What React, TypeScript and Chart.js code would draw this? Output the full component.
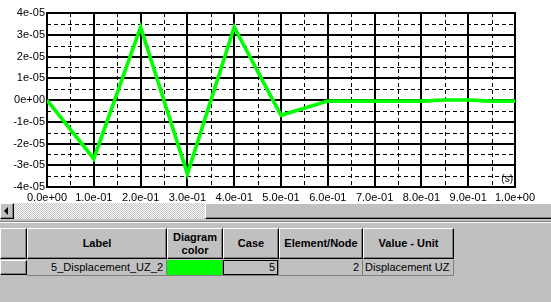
import React, { useEffect, useRef } from 'react';
import { Chart, registerables } from 'chart.js';

Chart.register(...registerables);

// ---- chart data ----
const timeSteps = [0, 0.1, 0.2, 0.3, 0.4, 0.5, 0.6, 0.65, 0.7, 0.75, 0.8, 0.85, 0.9, 0.95, 1.0];
const displacementUZ = [0, -2.7e-5, 3.35e-5, -3.4e-5, 3.35e-5, -0.7e-5, -5e-7, -5e-7, -5e-7, -5e-7, -5e-7, 0, 0, -5e-7, -5e-7];
const xAxisUnit = '(s)';

// ---- table data ----
const tableHeaders = ['Label', 'Diagram\ncolor', 'Case', 'Element/Node', 'Value - Unit'];
const rowLabels = ['5_Displacement_UZ_2'];
const rowColors = ['#00ff00'];
const rowCases = ['5'];
const rowNodes = ['2'];
const rowUnits = ['Displacement UZ'];

const FONT = '"Liberation Sans", Arial, sans-serif';

function fmtX(v: number): string {
  const s = v.toExponential(1);
  const [m, e] = s.split('e');
  const sign = e[0] === '-' ? '-' : '+';
  const d = e.replace(/[+-]/, '').padStart(2, '0');
  return `${m}e${sign}${d}`;
}

function fmtY(n: number): string {
  if (n === 0) return '0e+00';
  return `${n}e-05`;
}

const gridPlugin = {
  id: 'winGrid',
  beforeDatasetsDraw(chart: any) {
    const { ctx, chartArea: a, scales } = chart;
    const x = scales.x;
    const y = scales.y;
    ctx.save();
    ctx.strokeStyle = '#000';
    // minor dashed
    ctx.lineWidth = 1;
    ctx.setLineDash([4, 3]);
    ctx.beginPath();
    x.ticks.forEach((t: any) => {
      const k = Math.round(t.value * 20);
      if (k % 2 !== 0) {
        const px = Math.round(x.getPixelForValue(t.value)) + 0.5;
        ctx.moveTo(px, a.top);
        ctx.lineTo(px, a.bottom);
      }
    });
    y.ticks.forEach((t: any) => {
      const k = Math.round(t.value / 5e-6);
      if (k % 2 !== 0) {
        const py = Math.round(y.getPixelForValue(t.value)) + 0.5;
        ctx.moveTo(a.left, py);
        ctx.lineTo(a.right, py);
      }
    });
    ctx.stroke();
    // major solid
    ctx.setLineDash([]);
    ctx.lineWidth = 2;
    ctx.beginPath();
    x.ticks.forEach((t: any) => {
      const k = Math.round(t.value * 20);
      if (k % 2 === 0) {
        const px = Math.round(x.getPixelForValue(t.value));
        ctx.moveTo(px, a.top - 1);
        ctx.lineTo(px, a.bottom + 1);
      }
    });
    y.ticks.forEach((t: any) => {
      const k = Math.round(t.value / 5e-6);
      if (k % 2 === 0) {
        const py = Math.round(y.getPixelForValue(t.value));
        ctx.moveTo(a.left - 1, py);
        ctx.lineTo(a.right + 1, py);
      }
    });
    ctx.stroke();
    ctx.restore();
  },
  afterDraw(chart: any) {
    const { ctx, chartArea: a } = chart;
    ctx.save();
    ctx.fillStyle = '#000';
    ctx.font = `10px ${FONT}`;
    ctx.textAlign = 'right';
    ctx.textBaseline = 'alphabetic';
    ctx.fillText(xAxisUnit, a.right - 2, a.bottom - 5);
    ctx.restore();
  },
};

const raised: React.CSSProperties = {
  position: 'absolute',
  boxSizing: 'border-box',
  background: '#c0c0c0',
  borderTop: '1px solid #fff',
  borderLeft: '1px solid #fff',
  borderRight: '1px solid #000',
  borderBottom: '1px solid #000',
  boxShadow: 'inset -1px -1px #808080',
};

const columns = [
  { left: 27, width: 140 },
  { left: 167, width: 56 },
  { left: 223, width: 56 },
  { left: 279, width: 84 },
  { left: 363, width: 91 },
];

export default function App() {
  const canvasRef = useRef<HTMLCanvasElement | null>(null);

  useEffect(() => {
    const canvas = canvasRef.current;
    if (!canvas) return;
    const chart = new Chart(canvas, {
      type: 'line',
      data: {
        datasets: [
          {
            data: timeSteps.map((t, i) => ({ x: t, y: displacementUZ[i] })),
            borderColor: '#00ff00',
            borderWidth: 3.6,
            pointRadius: 0,
            tension: 0,
            borderJoinStyle: 'miter',
          },
        ],
      },
      options: {
        animation: false,
        responsive: false,
        devicePixelRatio: 1,
        layout: { padding: { left: 0, top: 13, right: 36, bottom: 0 } },
        plugins: { legend: { display: false }, tooltip: { enabled: false } },
        scales: {
          x: {
            type: 'linear',
            min: 0,
            max: 1,
            grid: { display: false, drawTicks: false },
            border: { display: false },
            afterFit: (s: any) => { s.height = 16; },
            ticks: {
              stepSize: 0.05,
              autoSkip: false,
              maxRotation: 0,
              minRotation: 0,
              padding: 4,
              color: '#000',
              font: { family: FONT, size: 11 },
              callback: (value: any) => {
                const v = Number(value);
                const k = Math.round(v * 20);
                if (k % 2 !== 0) return '';
                return fmtX(k / 20);
              },
            },
          },
          y: {
            type: 'linear',
            min: -4e-5,
            max: 4e-5,
            grid: { display: false, drawTicks: false },
            border: { display: false },
            afterFit: (s: any) => { s.width = 47; },
            ticks: {
              stepSize: 5e-6,
              autoSkip: false,
              padding: 2,
              color: '#000',
              font: { family: FONT, size: 11 },
              callback: (value: any) => {
                const k = Math.round(Number(value) / 5e-6);
                if (k % 2 !== 0) return '';
                return fmtY(k / 2);
              },
            },
          },
        },
      },
      plugins: [gridPlugin],
    } as any);
    return () => chart.destroy();
  }, []);

  return (
    <div style={{ position: 'relative', width: 551, height: 302, background: '#c0c0c0', overflow: 'hidden', fontFamily: FONT }}>
      <style>{`body{margin:0}`}</style>
      <canvas ref={canvasRef} width={551} height={203} style={{ position: 'absolute', left: 0, top: 0, width: 551, height: 203, background: '#fff', display: 'block' }} />
      {/* scrollbar */}
      <div style={{ position: 'absolute', left: 0, top: 203, width: 551, height: 16, background: 'repeating-conic-gradient(#c0c0c0 0 25%, #fff 0 50%) 0 0 / 2px 2px' }} />
      <div style={{ ...raised, left: 0, top: 203, width: 14, height: 16 }}>
        <div style={{ position: 'absolute', left: 3, top: 3, width: 0, height: 0, borderTop: '4px solid transparent', borderBottom: '4px solid transparent', borderRight: '4px solid #000' }} />
      </div>
      <div style={{ ...raised, left: 205, top: 203, width: 360, height: 16 }} />
      {/* splitter */}
      <div style={{ position: 'absolute', left: 0, top: 221, width: 551, height: 1, background: '#808080' }} />
      <div style={{ position: 'absolute', left: 0, top: 222, width: 551, height: 1, background: '#fff' }} />
      {/* header row */}
      <div style={{ ...raised, left: 0, top: 228, width: 27, height: 31 }} />
      {tableHeaders.map((h, i) => (
        <div key={h} style={{ ...raised, left: columns[i].left, top: 228, width: columns[i].width, height: 31, display: 'flex', alignItems: 'center', justifyContent: 'center', textAlign: 'center', whiteSpace: 'pre', fontWeight: 'bold', fontSize: 11, lineHeight: '13px', color: '#000' }}>
          {h}
        </div>
      ))}
      {/* data rows */}
      {rowLabels.map((label, r) => {
        const top = 260 + r * 16;
        const cell: React.CSSProperties = { position: 'absolute', boxSizing: 'border-box', top, height: 16, borderRight: '1px solid #808080', borderBottom: '1px solid #808080', fontSize: 11, lineHeight: '14px', color: '#000', whiteSpace: 'nowrap', overflow: 'hidden' };
        return (
          <React.Fragment key={label}>
            <div style={{ ...raised, left: 0, top, width: 27, height: 15 }} />
            <div style={{ ...cell, left: columns[0].left, width: columns[0].width, textAlign: 'right', paddingRight: 3 }}>{label}</div>
            <div style={{ ...cell, left: columns[1].left, width: columns[1].width, background: rowColors[r] }} />
            <div style={{ ...cell, left: columns[2].left, width: columns[2].width }}>
              <div style={{ position: 'absolute', boxSizing: 'border-box', left: 0, top: 0, width: columns[2].width - 1, height: 15, border: '1px solid #000', textAlign: 'right', paddingRight: 2, lineHeight: '13px' }}>{rowCases[r]}</div>
            </div>
            <div style={{ ...cell, left: columns[3].left, width: columns[3].width, textAlign: 'right', paddingRight: 3 }}>{rowNodes[r]}</div>
            <div style={{ ...cell, left: columns[4].left, width: columns[4].width, textAlign: 'left', paddingLeft: 2 }}>{rowUnits[r]}</div>
          </React.Fragment>
        );
      })}
    </div>
  );
}
